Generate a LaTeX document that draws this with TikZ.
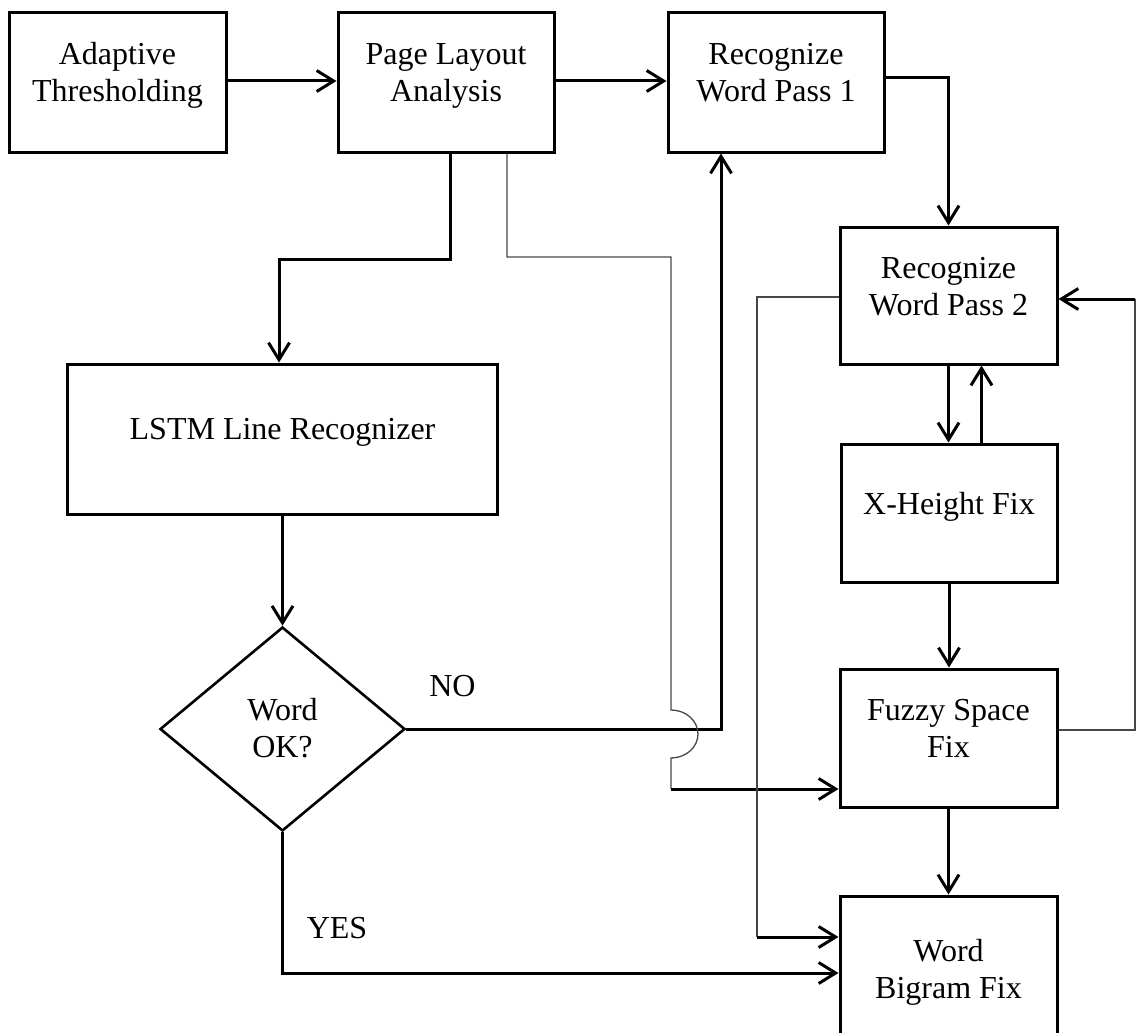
\documentclass[tikz,border=0pt]{standalone}
\usepackage{fontspec}
\setmainfont{Liberation Serif}
\usetikzlibrary{arrows.meta,shapes.geometric}

\begin{document}
\begin{tikzpicture}[x=1pt,y=-1pt,
  box/.style={draw, line width=3pt, inner sep=0pt, rectangle},
  decision/.style={draw, line width=2.6pt, inner sep=0pt, diamond},
  lbl/.style={inner sep=0pt, font=\fontsize{32}{37}\selectfont},
  flow/.style={line width=3pt, -{Straight Barb[length=17pt,width=21pt]}},
  link/.style={line width=1.3pt, draw=black!72}]

% page area
\fill[white] (0,0) rectangle (1136,1033);
\useasboundingbox (0,0) rectangle (1136,1033);

% process boxes
\node[box, minimum width=217, minimum height=139] (adapt)  at (117.5,82.5) {};
\node[box, minimum width=216, minimum height=139] (page)   at (446,82.5)   {};
\node[box, minimum width=216, minimum height=139] (pass1)  at (776,82.5)   {};
\node[box, minimum width=217, minimum height=137] (pass2)  at (948.5,295.5) {};
\node[box, minimum width=216, minimum height=138] (xh)     at (949,513)    {};
\node[box, minimum width=217, minimum height=138] (fuzzy)  at (948.5,738)  {};
\node[box, minimum width=217, minimum height=140] (bigram) at (948.5,966)  {};
\node[box, minimum width=430, minimum height=150] (lstm)   at (282.5,439)  {};
\node[decision, minimum width=245, minimum height=204] (dec) at (282.5,729) {};

% box texts
\node[lbl] (adaptT)  at ([yshift=7]adapt.center)  {\begin{tabular}{@{}c@{}}Adaptive\\Thresholding\end{tabular}};
\node[lbl] (pageT)   at ([yshift=7]page.center)   {\begin{tabular}{@{}c@{}}Page Layout\\Analysis\end{tabular}};
\node[lbl] (pass1T)  at ([yshift=7]pass1.center)  {\begin{tabular}{@{}c@{}}Recognize\\Word Pass 1\end{tabular}};
\node[lbl] (pass2T)  at ([yshift=6]pass2.center)  {\begin{tabular}{@{}c@{}}Recognize\\Word Pass 2\end{tabular}};
\node[lbl] (xhT)     at ([yshift=5.5]xh.center)   {\begin{tabular}{@{}c@{}}X-Height Fix\end{tabular}};
\node[lbl] (fuzzyT)  at ([yshift=6.5]fuzzy.center) {\begin{tabular}{@{}c@{}}Fuzzy Space\\Fix\end{tabular}};
\node[lbl] (bigramT) at (948.5,972.5) {\begin{tabular}{@{}c@{}}Word\\Bigram Fix\end{tabular}};
\node[lbl] (lstmT)   at ([yshift=6.5]lstm.center) {\begin{tabular}{@{}c@{}}LSTM Line Recognizer\end{tabular}};
\node[lbl] (decT)    at ([yshift=-3]dec.center)   {\begin{tabular}{@{}c@{}}Word\\OK?\end{tabular}};

% branch labels
\node[lbl, anchor=base] (noT)  at (452.5,696) {NO};
\node[lbl, anchor=base] (yesT) at (337,938)   {YES};

% main flow
\draw[flow] ([yshift=1.5]adapt.east) -- ([yshift=1.5]page.west);
\draw[flow] ([yshift=1.5]page.east) -- ([yshift=1.5]pass1.west);
\draw[flow] ([yshift=4.5]pass1.east) -| (pass2.north);
\draw[flow] ([xshift=4]page.south) -- ++(0,106) -| ([xshift=-3.5]lstm.north);
\draw[flow] (lstm.south) -- (dec.north);
\draw[flow] (dec.east) -| ([xshift=-55]pass1.south);
\draw[flow] (dec.south) |- ([yshift=-7]bigram.west);

% right column
\draw[flow] (pass2.south) -- (pass2.south |- xh.north);
\draw[flow] ([xshift=32.5]xh.north) -- ([xshift=32.5]xh.north |- pass2.south);
\draw[flow] (xh.south) -- (xh.south |- fuzzy.north);
\draw[flow] (fuzzy.south) -- (fuzzy.south |- bigram.north);

% layout bypass to fuzzy space, hopping over the NO line
\coordinate (hopEnd) at (671,789);
\draw[link] ([xshift=61]page.south) |- (671,257) -- (671,710)
  arc[start angle=-90, end angle=90, x radius=27, y radius=24] -- (hopEnd);
\draw[flow] (hopEnd) -- (fuzzy.west |- hopEnd);

% fuzzy space back to pass 2
\coordinate (backTop) at (1135,299);
\draw[link] ([yshift=8]fuzzy.east) -| (backTop);
\draw[flow] (backTop) -- (pass2.east |- backTop);

% pass 2 straight to bigram
\coordinate (sideLow) at (757,937);
\draw[link] ([yshift=-1.5]pass2.west) -| (sideLow);
\draw[flow] (sideLow) -- (bigram.west |- sideLow);

\end{tikzpicture}
\end{document}
